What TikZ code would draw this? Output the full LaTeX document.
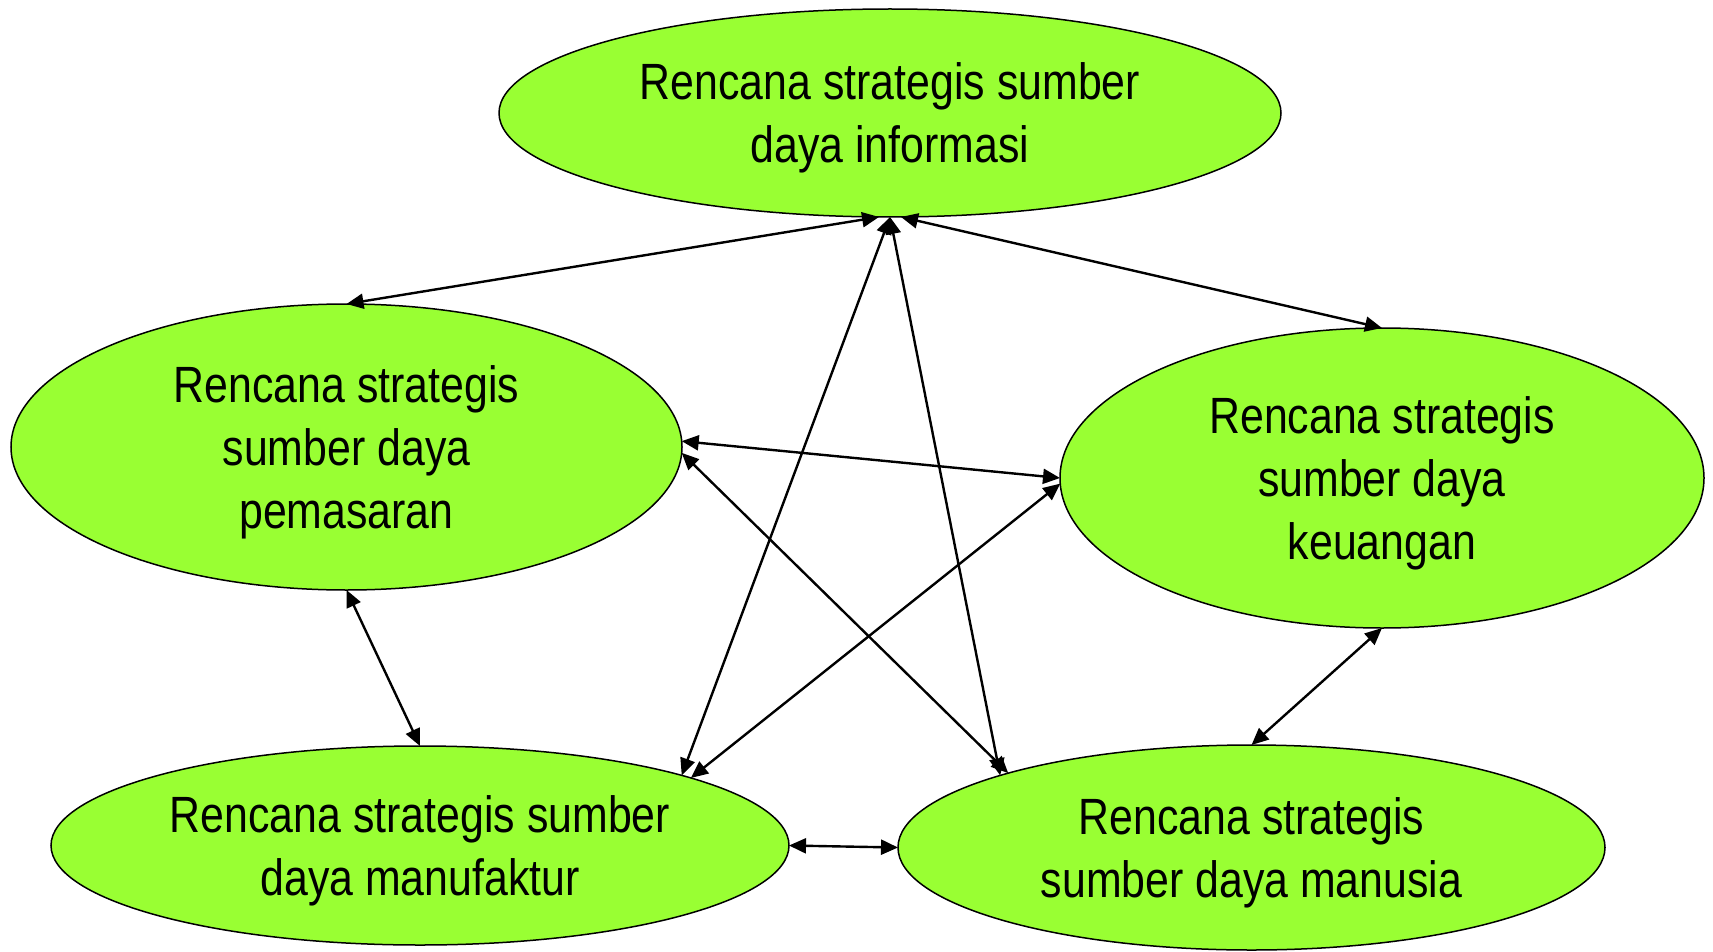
\documentclass[tikz,border=0pt]{standalone}
\usepackage{fontspec}
\setmainfont[FakeStretch=0.84]{Liberation Sans}
\usetikzlibrary{arrows.meta,shapes.geometric}
\usepackage{xcolor}
\definecolor{plangreen}{RGB}{153,255,51}

\begin{document}
\begin{tikzpicture}[x=1pt,y=-1pt]
\tikzstyle{plan} = [ellipse, draw=black, line width=1.5pt, fill=plangreen,
inner sep=0pt, outer sep=0pt, align=center, text depth=0pt,
font=\fontsize{51}{63}\selectfont]
\tikzstyle{link} = [draw, line width=2.4pt,
{Triangle[length=17pt,width=15pt]}-{Triangle[length=17pt,width=15pt]}];
\useasboundingbox (0,0) rectangle (1713,952);
% top
\node [plan, minimum width=782pt, minimum height=208pt] (info) at (890,113)
{Rencana strategis sumber\\daya informasi};
% middle row
\node [plan, minimum width=671pt, minimum height=286pt] (pemasaran) at (346.5,447)
{Rencana strategis\\sumber daya\\pemasaran};
\node [plan, minimum width=644pt, minimum height=300pt] (keuangan) at (1382,478)
{Rencana strategis\\sumber daya\\keuangan};
% bottom row
\node [plan, minimum width=738pt, minimum height=199pt] (manufaktur) at (420,845.5)
{Rencana strategis sumber\\daya manufaktur};
\node [plan, minimum width=707pt, minimum height=205pt] (manusia) at (1251.5,847.5)
{Rencana strategis\\sumber daya manusia};
\tikzstyle{every path}=[link]
\path (info.264) -- (pemasaran.north);
\path (info.276) -- (keuangan.north);
\path (info.south) -- (manufaktur.15);
\path (info.south) -- (manusia.164);
\path (pemasaran.1) -- (keuangan.west);
\path (pemasaran.-1) -- (manusia.163);
\path (keuangan.181) -- (manufaktur.14);
\path (pemasaran.south) -- (manufaktur.north);
\path (keuangan.south) -- (manusia.north);
\path (manufaktur.east) -- (manusia.west);
\end{tikzpicture}
\end{document}
